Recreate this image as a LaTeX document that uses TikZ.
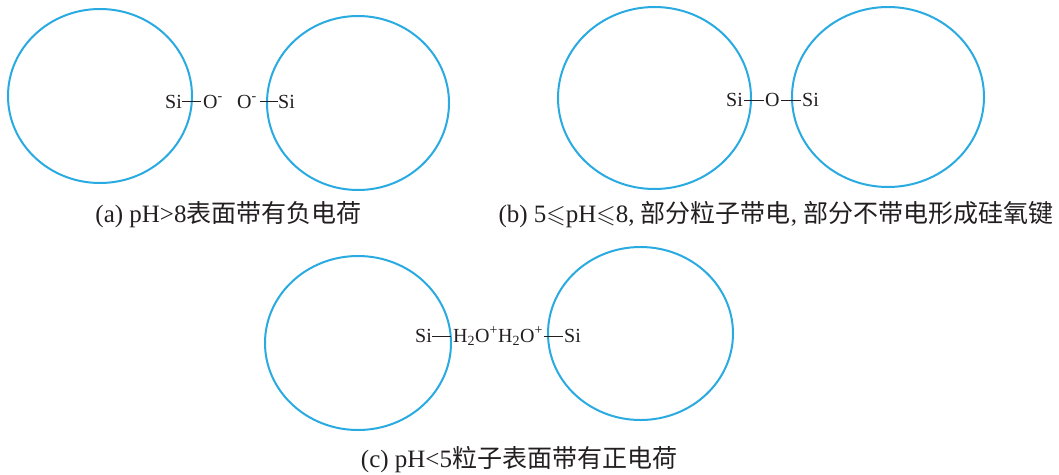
\documentclass[tikz,border=0pt]{standalone}
\usepackage{fontspec}
\usepackage{amssymb}
\setmainfont{Liberation Serif}
\newfontfamily\cjk{Noto Sans CJK SC}
\usetikzlibrary{shapes.geometric}
\definecolor{ballblue}{RGB}{41,171,226}
\definecolor{ink}{RGB}{35,31,32}
\begin{document}
\begin{tikzpicture}[x=1pt,y=-1pt,
  ball/.style={ellipse, draw=ballblue, line width=2pt, inner sep=0pt},
  chem/.style={anchor=base west, inner sep=0pt, text=ink, font=\fontsize{20}{24}\selectfont},
  bond/.style={draw=ink, line width=0.9pt},
  capt/.style={anchor=base, inner sep=0pt, text=ink, font=\fontsize{25}{29}\selectfont}]
\useasboundingbox (0,0) rectangle (1059,474);
\fill[white] (0,0) rectangle (1059,474);
% particles
\node[ball, minimum width=184pt, minimum height=174pt] (c1) at (100,96) {};
\node[ball, minimum width=182pt, minimum height=174pt] (c2) at (358,103) {};
\node[ball, minimum width=193pt, minimum height=182pt] (c3) at (654.5,98) {};
\node[ball, minimum width=192pt, minimum height=180pt] (c4) at (888,97) {};
\node[ball, minimum width=186pt, minimum height=174pt] (c5) at (358,343) {};
\node[ball, minimum width=185pt, minimum height=173pt] (c6) at (640.5,333.5) {};
% (a)
\node[chem] (si1) at (165,108) {Si};
\node[chem] (o1) at (203,108) {O\textsuperscript{-}};
\node[chem] (o2) at (237,108) {O\textsuperscript{-}};
\node[chem] (si2) at (278,108) {Si};
\draw[bond] ([yshift=6.5pt]si1.base east) -- ([xshift=-2pt,yshift=6.5pt]o1.base west);
\draw[bond] ([xshift=3pt,yshift=6.5pt]o2.base east) -- ([yshift=6.5pt]si2.base west);
% (b)
\node[chem] (si3) at (726,106.5) {Si};
\node[chem] (o3) at (765,106.5) {O};
\node[chem] (si4) at (802,106.5) {Si};
\draw[bond] ([xshift=1pt,yshift=6.5pt]si3.base east) -- ([xshift=-1.5pt,yshift=6.5pt]o3.base west);
\draw[bond] ([xshift=1pt,yshift=6.5pt]o3.base east) -- ([xshift=-1.5pt,yshift=6.5pt]si4.base west);
% (c)
\node[chem] (si5) at (415,342.5) {Si};
\node[chem] (h1) at (453,342.5) {H\textsubscript{2}O\textsuperscript{+}};
\node[chem] (h2) at (498,342.5) {H\textsubscript{2}O\textsuperscript{+}};
\node[chem] (si6) at (564,342.5) {Si};
\draw[bond] ([yshift=6.5pt]si5.base east) -- ([xshift=-2pt,yshift=6.5pt]h1.base west);
\draw[bond] ([xshift=0.5pt,yshift=6.5pt]h2.base east) -- ([xshift=-1pt,yshift=6.5pt]si6.base west);
% captions
\node[capt] (capa) at (228.5,222) {(a) pH>8{\cjk 表面带有负电荷}};
\node[capt] (capb) at (776,222) {(b) 5$\leqslant$pH$\leqslant$8, {\cjk 部分粒子带电}, {\cjk 部分不带电形成硅氧键}};
\node[capt] (capc) at (519,467) {(c) pH<5{\cjk 粒子表面带有正电荷}};
\end{tikzpicture}
\end{document}
